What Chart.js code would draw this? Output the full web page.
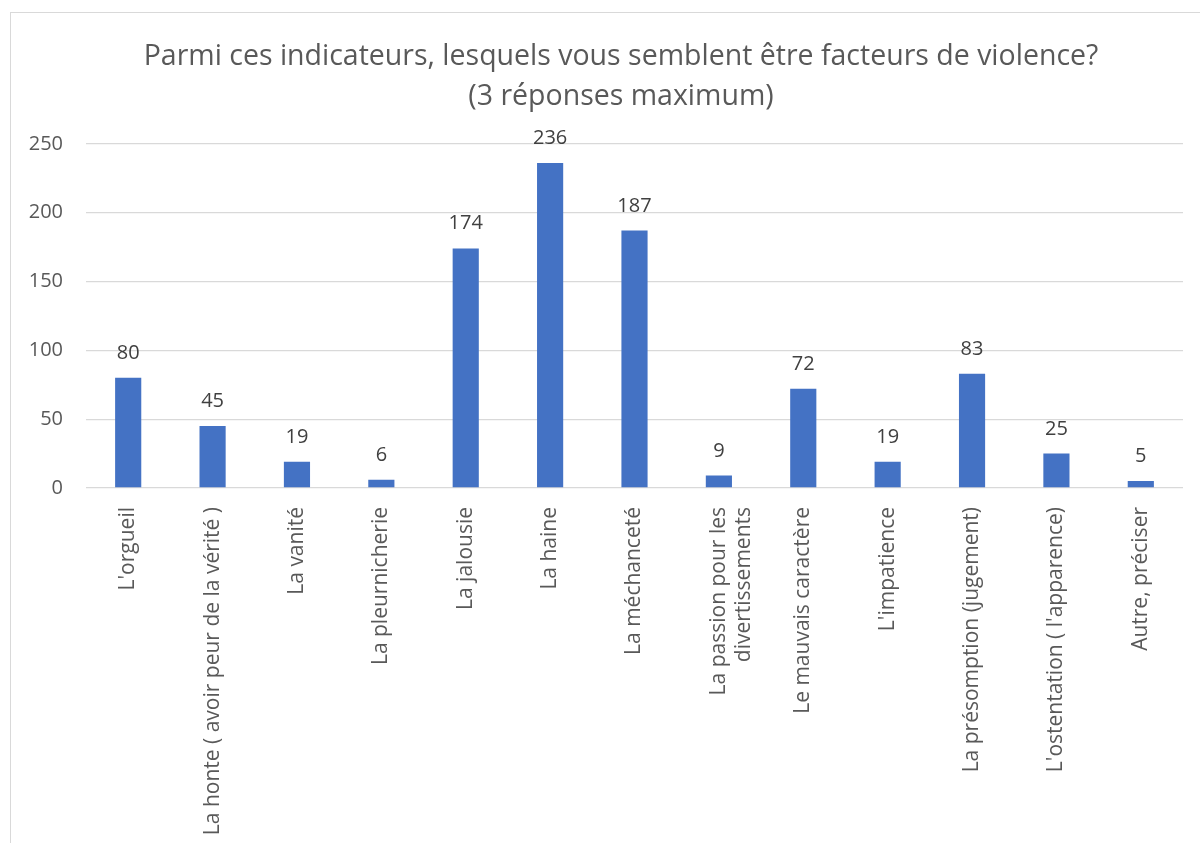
<!DOCTYPE html>
<html>
<head>
<meta charset="utf-8">
<script src="https://cdn.jsdelivr.net/npm/chart.js@4.4.0/dist/chart.umd.min.js"></script>
<style>
  body { margin: 0; background: #fff; overflow: hidden; }
  #frame { position: absolute; left: 10px; top: 12px; width: 1230px; height: 850px; border: 1px solid #d9d9d9; }
  #myChart { position: absolute; left: 0; top: 0; }
</style>
</head>
<body>
<div id="frame"></div>
<canvas id="myChart" width="1200" height="843"></canvas>
<script>
var titleLines = ['Parmi ces indicateurs, lesquels vous semblent être facteurs de violence?', '(3 réponses maximum)'];
var categories = [
    "L'orgueil",
    'La honte ( avoir peur de la vérité )',
    'La vanité',
    'La pleurnicherie',
    'La jalousie',
    'La haine',
    'La méchanceté',
    ['La passion pour les', 'divertissements'],
    'Le mauvais caractère',
    "L'impatience",
    'La présomption (jugement)',
    "L'ostentation ( l'apparence)",
    'Autre, préciser'
];
var votes = [80, 45, 19, 6, 174, 236, 187, 9, 72, 19, 83, 25, 5];
var yTicks = [0, 50, 100, 150, 200, 250];

// labels above bars
var barLabels = {
    id: 'barLabels',
    afterDatasetsDraw: function (chart) {
        var ctx = chart.ctx;
        var meta = chart.getDatasetMeta(0);
        ctx.save();
        ctx.font = '20px "Open Sans"';
        ctx.fillStyle = '#404040';
        ctx.textAlign = 'center';
        ctx.textBaseline = 'alphabetic';
        meta.data.forEach(function (bar, i) {
            ctx.fillText(votes[i], bar.x, bar.y - 19);
        });
        ctx.restore();
    }
};

// the chart frame runs past the right edge, so centre the title on the frame
var titleShift = {
    id: 'titleShift',
    afterLayout: function (chart) {
        chart.titleBlock.left = 42;
        chart.titleBlock.right = 1200;
    }
};

function createChart() {
    var ctx = document.getElementById('myChart');

    var data = {
        labels: categories,
        datasets: [{
            data: votes,
            backgroundColor: '#4472C4',
            categoryPercentage: 1,
            barPercentage: 0.31
        }]
    };

    var option = {
        responsive: false,
        animation: false,
        layout: {
            padding: { left: 0, right: 17, top: 0, bottom: 0 }
        },
        plugins: {
            legend: { display: false },
            tooltip: { enabled: false },
            title: {
                display: true,
                text: titleLines,
                color: '#595959',
                font: { family: '"Open Sans"', size: 28.5, weight: 'normal', lineHeight: 1.4 },
                padding: { top: 37, bottom: 27 }
            }
        },
        scales: {
            x: {
                grid: { display: false },
                border: { display: false },
                ticks: {
                    color: '#595959',
                    font: { family: '"Open Sans"', size: 21 },
                    minRotation: 90,
                    maxRotation: 90,
                    autoSkip: false,
                    padding: 11
                },
                afterFit: function (scale) { scale.height = 355; }
            },
            y: {
                min: 0,
                max: 250,
                afterBuildTicks: function (scale) {
                    scale.ticks = yTicks.map(function (v) { return { value: v }; });
                },
                grid: { color: '#d9d9d9', lineWidth: 1.3, drawTicks: false },
                border: { display: false },
                ticks: {
                    color: '#595959',
                    font: { family: '"Open Sans"', size: 20 },
                    padding: 23
                },
                afterFit: function (scale) { scale.width = 86; }
            }
        }
    };

    var myChart = new Chart(ctx, {
        type: 'bar',
        data: data,
        options: option,
        plugins: [barLabels, titleShift]
    });
}

document.fonts.load('20px "Open Sans"').then(createChart, createChart);
</script>
</body>
</html>
